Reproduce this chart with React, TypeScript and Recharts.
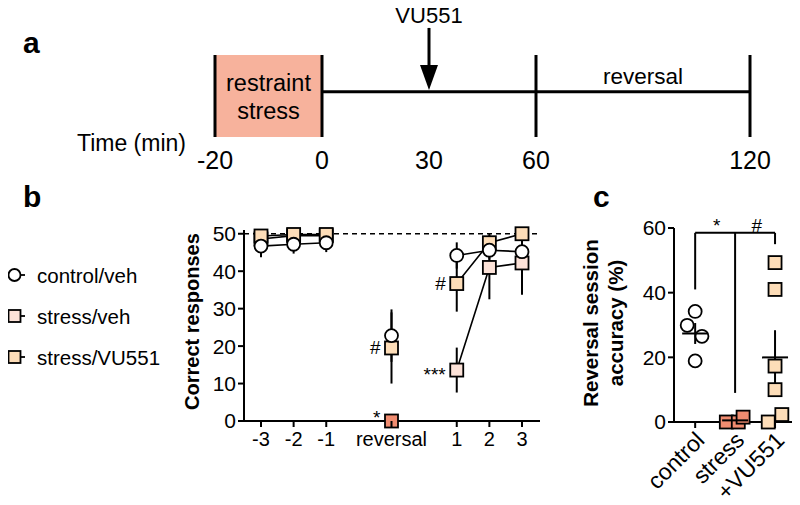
import React from "react";
import {
  ComposedChart,
  Line,
  Scatter,
  XAxis,
  YAxis,
  ReferenceLine,
  ReferenceArea,
  ReferenceDot,
  ErrorBar,
  Legend,
  Label,
} from "recharts";

const FONT = "'Liberation Sans', Arial, Helvetica, sans-serif";
const INK = "#000";
const STRESS_BOX = "#F7B29C";
const STRESS_RED = "#F08C70";
const STRESS_VEH = "#FCE2D8";
const STRESS_VU = "#FDDDB8";

// ---- panel a: timeline (minutes) ----
const timePoints = [-20, 0, 30, 60, 120];
const stressWindow = [-20, 0];
const drugTime = 30;
const reversalWindow = [60, 120];
// schematic: the pre-stress period is drawn 1.5x wider than real time
const timePos = (t: number) => (t < 0 ? t * 1.5 : t);
const TIMELINE_Y = 0.552;

// ---- panel b: correct responses per session ----
const sessions = ["-3", "-2", "-1", " ", "reversal", "  ", "1", "2", "3"];
const controlVeh = [46.7, 47.2, 47.6, null, 22.8, null, 44.2, 45.6, 45.2];
const controlVehSem = [3, 2.5, 2.5, null, 7, null, 3.5, 2.5, 3];
const stressVeh = [48.6, 49.5, 49.5, null, 0, null, 13.6, 41, 42.2];
const stressVehSem = [1, 1, 1, null, 0, null, 6, 8.5, 8.5];
const stressVu = [49.4, 49.8, 49.8, null, 19.5, null, 36.7, 47.6, 50];
const stressVuSem = [1, 1, 1, null, 9.5, null, 7.5, 2.5, 1];
const stressVehMarks = ["", "", "", "", "*", "", "***", "", ""];
const stressVuMarks = ["", "", "", "", "#", "", "#", "", ""];

// ---- panel c: reversal session accuracy (%) ----
const accuracyGroups = ["control", "stress", "+VU551"];
const controlAcc = [34.2, 29.9, 26.5, 18.9];
const controlJitter = [0, -0.2, 0.17, 0];
const stressAcc = [0, 0, 1.5];
const stressJitter = [-0.22, 0.08, 0.2];
const vuAcc = [49.3, 41, 17.3, 10, 2.3, 0];
const vuJitter = [0, 0, 0, 0, 0.17, -0.17];
const bracketLevel = 58.5;
const bracketDrops = [41, 9, 55];
const bracketMarks = ["*", "#"];

const sessionRows = sessions.map((s, i) => ({
  session: s,
  ctrl: controlVeh[i],
  ctrlSem: controlVehSem[i],
  sveh: stressVeh[i],
  svehSem: stressVehSem[i],
  svu: stressVu[i],
  svuSem: stressVuSem[i],
  svehMark: stressVehMarks[i],
  svuMark: stressVuMarks[i],
}));

const timelineRows = [0, reversalWindow[1]].map((t) => ({ pos: timePos(t), level: TIMELINE_Y }));

const mean = (v: number[]) => v.reduce((a, b) => a + b, 0) / v.length;
const sem = (v: number[]) => {
  const m = mean(v);
  const sd = Math.sqrt(v.reduce((a, b) => a + (b - m) ** 2, 0) / (v.length - 1));
  return sd / Math.sqrt(v.length);
};
const toPoints = (vals: number[], jit: number[], g: number) =>
  vals.map((y, i) => ({ x: g + jit[i], y }));
const groupVals = [controlAcc, stressAcc, vuAcc];
const meanRows = groupVals.map((v, i) => ({ x: i + 1, y: mean(v), sem: sem(v) }));

// ---- markers ----
function Marker({ cx, cy, shape, fill, size = 6.5 }: any) {
  if (shape === "circle") {
    return <circle cx={cx} cy={cy} r={size} fill={fill} stroke={INK} strokeWidth={1.8} />;
  }
  return (
    <rect x={cx - size} y={cy - size} width={size * 2} height={size * 2} fill={fill} stroke={INK} strokeWidth={1.8} />
  );
}

const sessionDot = (key: string, shape: string, fill: string, markKey?: string) => (props: any) => {
  const { cx, cy, index, payload } = props;
  if (payload == null || payload[key] == null || cx == null || cy == null) return <g key={`e${key}${index}`} />;
  // stressed animals on the reversal day are drawn in the stress colour
  const f = key === "sveh" && payload.session === "reversal" ? STRESS_RED : fill;
  const mark = markKey ? payload[markKey] : "";
  // a lone star sits a little higher than the triple star, as in the figure
  const dy = mark === "*" ? 3 : mark.startsWith("*") ? 10.5 : 6.5;
  return (
    <g key={`d${key}${index}`}>
      <Marker cx={cx} cy={cy} shape={shape} fill={f} />
      {mark ? (
        <text x={cx - 11} y={cy + dy} textAnchor="end" fontSize={19} fill={INK}>
          {mark}
        </text>
      ) : null}
    </g>
  );
};

const legendItems = [
  { name: "control/veh", shape: "circle", fill: "#fff" },
  { name: "stress/veh", shape: "square", fill: STRESS_VEH },
  { name: "stress/VU551", shape: "square", fill: STRESS_VU },
];

function SessionLegend() {
  return (
    <svg width={180} height={112} style={{ fontFamily: FONT, display: "block", overflow: "visible" }}>
      {legendItems.map((it, i) => {
        const y = 15 + i * 41;
        return (
          <g key={it.name}>
            <line x1={4} x2={25} y1={y} y2={y} stroke={INK} strokeWidth={1.8} />
            <Marker cx={14.5} cy={y} shape={it.shape} fill={it.fill} size={6} />
            <text x={37} y={y} dominantBaseline="central" fontSize={20.5} fill={INK}>
              {it.name}
            </text>
          </g>
        );
      })}
    </svg>
  );
}

function SessionTick({ x, y, payload }: any) {
  const label = String(payload.value).trim();
  if (!label) return <g />;
  return (
    <g>
      <line x1={x} x2={x} y1={y - 6} y2={y} stroke={INK} strokeWidth={2} />
      <text x={x} y={y + 5} dy="0.71em" textAnchor="middle" fontSize={20} fill={INK}>
        {label}
      </text>
    </g>
  );
}

function GroupTick({ x, y, payload }: any) {
  const label = accuracyGroups[payload.value - 1];
  const ax = x + 5;
  const ay = y + 8;
  return (
    <text
      x={ax}
      y={ay}
      transform={`rotate(-45, ${ax}, ${ay})`}
      textAnchor="end"
      dominantBaseline="central"
      fontSize={23}
      fill={INK}
    >
      {label}
    </text>
  );
}

function TimelinePanel() {
  return (
    <ComposedChart width={800} height={175} data={timelineRows} margin={{ top: 55, right: 50, bottom: 0, left: 215 }}>
      <XAxis
        type="number"
        dataKey="pos"
        domain={[timePos(-20), 120]}
        ticks={timePoints.map(timePos)}
        tickFormatter={(v: number) => String(timePoints[timePoints.map(timePos).indexOf(v)])}
        axisLine={false}
        tickLine={false}
        height={38}
        tickMargin={8}
        tick={{ fontSize: 25, fill: INK }}
        interval={0}
      >
        <Label
          content={({ viewBox }: any) => (
            <text x={viewBox.x - 29} y={143} textAnchor="end" dominantBaseline="central" fontSize={23} fill={INK}>
              Time (min)
            </text>
          )}
        />
      </XAxis>
      <YAxis hide type="number" domain={[0, 1]} />
      <ReferenceArea
        x1={timePos(stressWindow[0])}
        x2={timePos(stressWindow[1])}
        y1={0}
        y2={1}
        fill={STRESS_BOX}
        fillOpacity={1}
        stroke="none"
        label={(p: any) => {
          const vb = p.viewBox;
          const cx = vb.x + vb.width / 2;
          return (
            <g>
              <text x={cx} y={vb.y + 28} textAnchor="middle" dominantBaseline="central" fontSize={23.5} fill={INK}>
                restraint
              </text>
              <text x={cx} y={vb.y + 56} textAnchor="middle" dominantBaseline="central" fontSize={23.5} fill={INK}>
                stress
              </text>
            </g>
          );
        }}
      />
      <ReferenceArea
        x1={reversalWindow[0]}
        x2={reversalWindow[1]}
        y1={TIMELINE_Y}
        y2={0.93}
        fillOpacity={0}
        stroke="none"
        label={{ value: "reversal", position: "center", fontSize: 22.5, fill: INK }}
      />
      <Line dataKey="level" stroke={INK} strokeWidth={3} dot={false} isAnimationActive={false} />
      {[...stressWindow, ...reversalWindow].map((t) => (
        <ReferenceLine key={t} x={timePos(t)} stroke={INK} strokeWidth={3} />
      ))}
      <ReferenceLine
        segment={[
          { x: drugTime, y: 1.33 },
          { x: drugTime, y: 0.85 },
        ]}
        stroke={INK}
        strokeWidth={3}
        ifOverflow="visible"
      />
      <ReferenceDot
        x={drugTime}
        y={0.573}
        ifOverflow="visible"
        shape={(p: any) => (
          <g>
            <polygon points={`${p.cx},${p.cy} ${p.cx - 9},${p.cy - 25} ${p.cx + 9},${p.cy - 25}`} fill={INK} />
            <text x={p.cx} y={p.cy - 67} textAnchor="middle" fontSize={22} fill={INK}>
              VU551
            </text>
          </g>
        )}
      />
    </ComposedChart>
  );
}

function SessionPanel() {
  return (
    <ComposedChart width={560} height={335} data={sessionRows} margin={{ top: 60, right: 20, bottom: 44, left: 0 }}>
      <XAxis
        dataKey="session"
        type="category"
        interval={0}
        padding={{ left: 17, right: 18 }}
        height={40}
        tickLine={false}
        tickMargin={0}
        tickSize={6}
        stroke={INK}
        strokeWidth={2}
        tick={<SessionTick />}
      />
      <YAxis
        type="number"
        domain={[0, 50]}
        ticks={[0, 10, 20, 30, 40, 50]}
        width={244}
        stroke={INK}
        strokeWidth={2}
        tickSize={6}
        tickMargin={2}
        tick={{ fontSize: 21, fill: INK }}
      >
        <Label
          content={({ viewBox }: any) => {
            const x = viewBox.x + viewBox.width - 52;
            const y = viewBox.y + viewBox.height / 2 - 4;
            return (
              <text
                x={x}
                y={y}
                transform={`rotate(-90, ${x}, ${y})`}
                textAnchor="middle"
                dominantBaseline="central"
                fontSize={20}
                fontWeight="bold"
                fill={INK}
              >
                Correct responses
              </text>
            );
          }}
        />
      </YAxis>
      <ReferenceLine y={50} stroke={INK} strokeWidth={1.5} strokeDasharray="5 4" />
      <Line
        dataKey="sveh"
        stroke={INK}
        strokeWidth={1.6}
        isAnimationActive={false}
        dot={sessionDot("sveh", "square", STRESS_VEH, "svehMark")}
      >
        <ErrorBar dataKey="svehSem" width={0} stroke={INK} strokeWidth={2} />
      </Line>
      <Line
        dataKey="svu"
        stroke={INK}
        strokeWidth={1.6}
        isAnimationActive={false}
        dot={sessionDot("svu", "square", STRESS_VU, "svuMark")}
      >
        <ErrorBar dataKey="svuSem" width={0} stroke={INK} strokeWidth={2} />
      </Line>
      <Line
        dataKey="ctrl"
        stroke={INK}
        strokeWidth={1.6}
        isAnimationActive={false}
        dot={sessionDot("ctrl", "circle", "#fff")}
      >
        <ErrorBar dataKey="ctrlSem" width={0} stroke={INK} strokeWidth={2} />
      </Line>
      <Legend
        layout="vertical"
        align="center"
        verticalAlign="middle"
        content={() => <SessionLegend />}
        wrapperStyle={{ left: 0, top: 90, width: 180 }}
      />
    </ComposedChart>
  );
}

function AccuracyPanel() {
  return (
    <ComposedChart width={240} height={335} margin={{ top: 58, right: 3, bottom: 43, left: 0 }}>
      <XAxis
        type="number"
        dataKey="x"
        domain={[0.47, 3.55]}
        ticks={[1, 2, 3]}
        interval={0}
        height={40}
        stroke={INK}
        strokeWidth={2}
        tickSize={6}
        tickMargin={0}
        tick={<GroupTick />}
        allowDataOverflow
      />
      <YAxis
        type="number"
        dataKey="y"
        domain={[0, 60]}
        ticks={[0, 20, 40, 60]}
        width={114}
        stroke={INK}
        strokeWidth={2}
        tickSize={6}
        tickMargin={2}
        tick={{ fontSize: 21, fill: INK }}
      >
        <Label
          content={({ viewBox }: any) => {
            const y = viewBox.y + viewBox.height / 2 - 2;
            return (
              <g>
                {["Reversal session", "accuracy (%)"].map((t, i) => {
                  const x = viewBox.x + 30 + i * 25;
                  return (
                    <text
                      key={t}
                      x={x}
                      y={y}
                      transform={`rotate(-90, ${x}, ${y})`}
                      textAnchor="middle"
                      dominantBaseline="central"
                      fontSize={20.5}
                      fontWeight="bold"
                      fill={INK}
                    >
                      {t}
                    </text>
                  );
                })}
              </g>
            );
          }}
        />
      </YAxis>
      <ReferenceLine
        segment={[
          { x: 1, y: bracketLevel },
          { x: 3, y: bracketLevel },
        ]}
        stroke={INK}
        strokeWidth={2}
      />
      {bracketDrops.map((b, i) => (
        <ReferenceLine
          key={i}
          segment={[
            { x: i + 1, y: bracketLevel },
            { x: i + 1, y: b },
          ]}
          stroke={INK}
          strokeWidth={2}
        />
      ))}
      {bracketMarks.map((m, i) => (
        <ReferenceDot
          key={m}
          x={i + 1.54}
          y={bracketLevel}
          r={0}
          stroke="none"
          ifOverflow="visible"
          label={{ value: m, position: "top", offset: 1, fontSize: 19, fill: INK }}
        />
      ))}
      <Scatter
        data={toPoints(controlAcc, controlJitter, 1)}
        isAnimationActive={false}
        shape={(p: any) => <Marker cx={p.cx} cy={p.cy} shape="circle" fill="#fff" />}
      />
      <Scatter
        data={toPoints(stressAcc, stressJitter, 2)}
        isAnimationActive={false}
        shape={(p: any) => <Marker cx={p.cx} cy={p.cy} shape="square" fill={STRESS_RED} />}
      />
      <Scatter
        data={toPoints(vuAcc, vuJitter, 3)}
        isAnimationActive={false}
        shape={(p: any) => <Marker cx={p.cx} cy={p.cy} shape="square" fill={STRESS_VU} />}
      />
      <Scatter
        data={meanRows}
        isAnimationActive={false}
        shape={(p: any) => <line x1={p.cx - 13} x2={p.cx + 13} y1={p.cy} y2={p.cy} stroke={INK} strokeWidth={2} />}
      >
        <ErrorBar dataKey="sem" direction="y" width={0} stroke={INK} strokeWidth={2} />
      </Scatter>
    </ComposedChart>
  );
}

const panelLetter: React.CSSProperties = {
  position: "absolute",
  fontWeight: "bold",
  fontSize: 30,
  lineHeight: "30px",
};

export default function App() {
  return (
    <div style={{ position: "relative", width: 800, height: 505, background: "#fff", fontFamily: FONT, margin: -8 }}>
      <div style={{ position: "absolute", left: 0, top: 0 }}>
        <TimelinePanel />
      </div>
      <div style={{ position: "absolute", left: 0, top: 170 }}>
        <SessionPanel />
      </div>
      <div style={{ position: "absolute", left: 560, top: 170 }}>
        <AccuracyPanel />
      </div>
      <div style={{ ...panelLetter, left: 23, top: 28 }}>a</div>
      <div style={{ ...panelLetter, left: 23, top: 182 }}>b</div>
      <div style={{ ...panelLetter, left: 593, top: 182 }}>c</div>
    </div>
  );
}
